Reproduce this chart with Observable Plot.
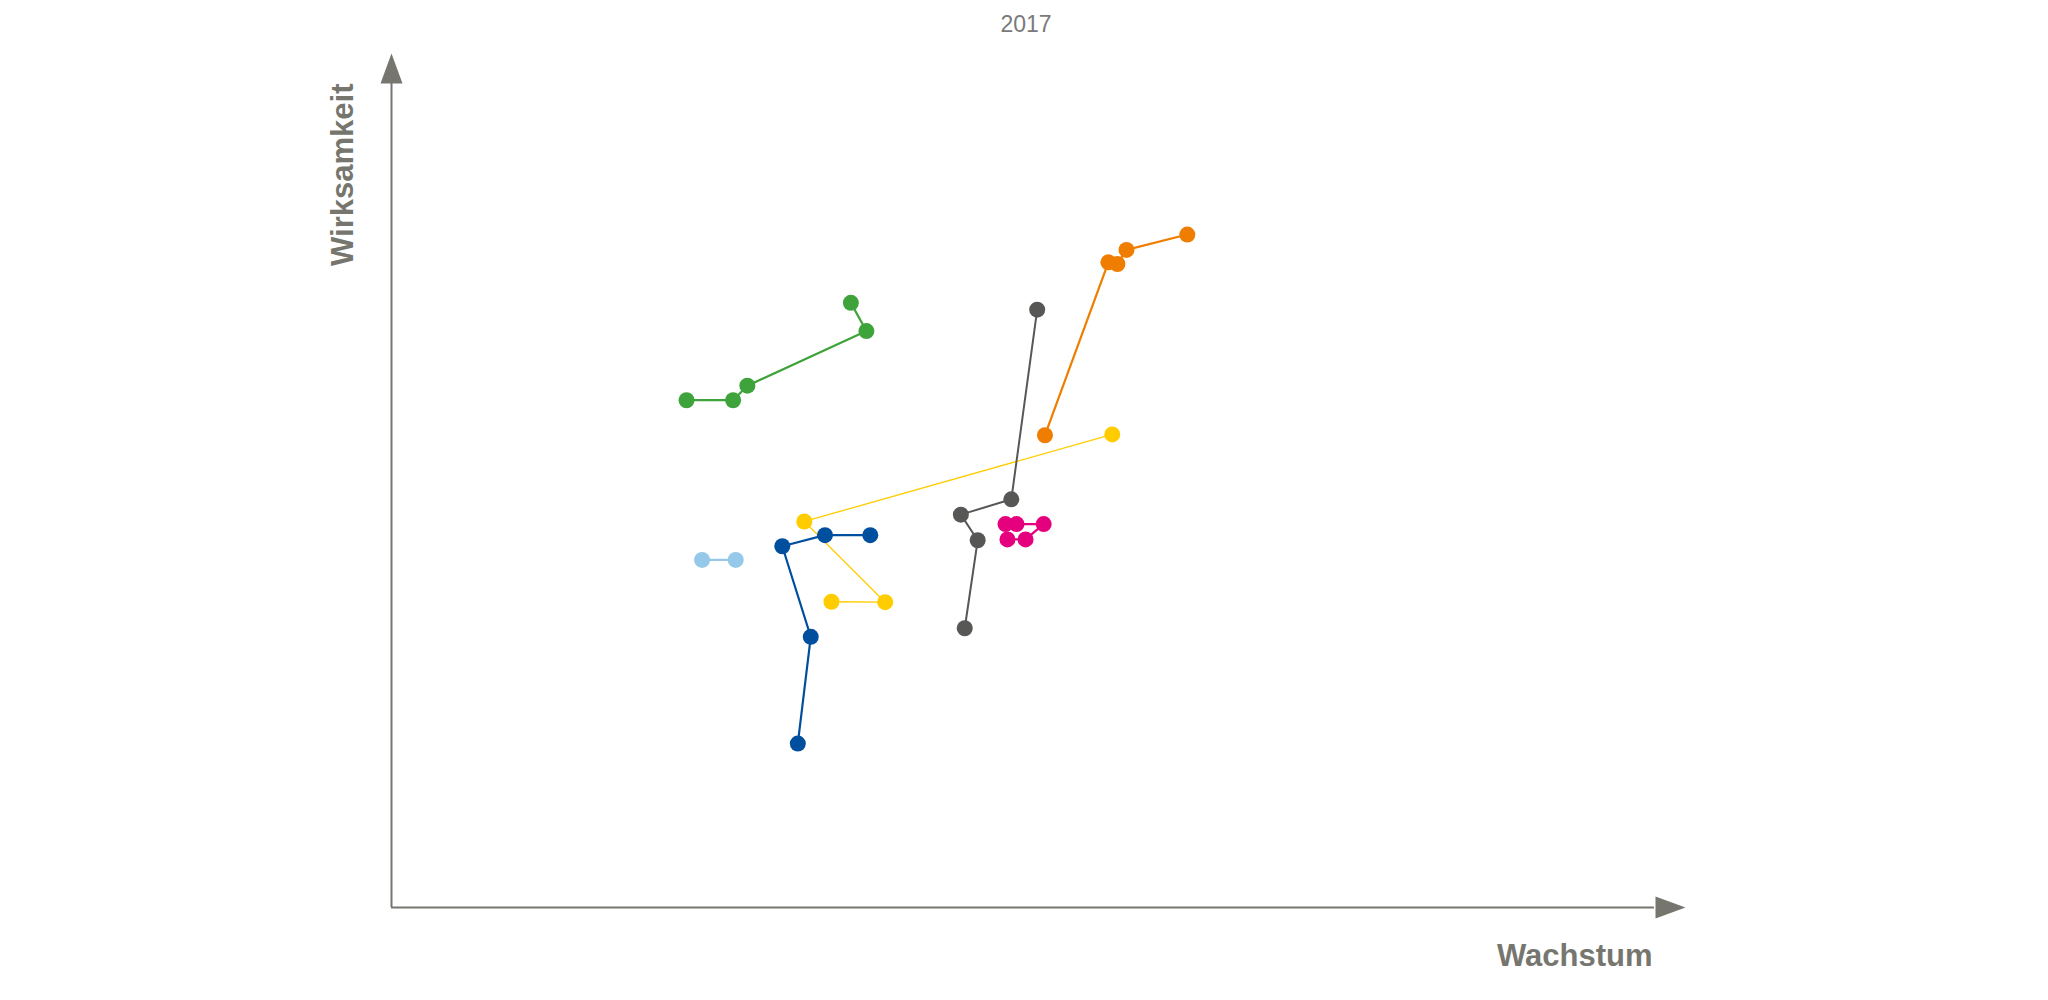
<!DOCTYPE html>
<html><head><meta charset="utf-8">
<script src="https://cdn.jsdelivr.net/npm/d3@7"></script>
<script src="https://cdn.jsdelivr.net/npm/@observablehq/plot@0.6"></script>
<style>
body{margin:0;background:#fff;font-family:"Liberation Sans",Arial,sans-serif;}
#title{width:2048px;box-sizing:border-box;padding-left:4px;height:45px;line-height:48px;text-align:center;font-size:23px;color:#7a7a7a;}
</style></head><body>
<div id="title">2017</div>
<div id="chart"></div>
<script>
// Series (Trajektorien)
const seriesNames  = ["grün", "hellblau", "blau", "gelb", "grau", "orange", "magenta"];
const seriesColors = ["#3ea33a", "#95c8e9", "#004f9e", "#ffcc00", "#575756", "#ef7d00", "#e5007d"];
const seriesWidths = [2.2, 2.2, 2.2, 1.3, 2, 2.2, 2.2];

// Values (Wachstum = x, Wirksamkeit = y), scale 0–100
const gruenX    = [22.8, 26.4, 27.5, 36.7, 35.5];
const gruenY    = [59.4, 59.4, 61.1, 67.5, 70.8];
const hellblauX = [24.0, 26.6];
const hellblauY = [40.7, 40.7];
const blauX     = [37.0, 33.5, 30.2, 32.4, 31.4];
const blauY     = [43.6, 43.6, 42.3, 31.7, 19.2];
const gelbX     = [55.7, 31.9, 38.15, 34.0];
const gelbY     = [55.4, 45.2, 35.75, 35.8];
const grauX     = [49.9, 47.9, 44.0, 45.3, 44.3];
const grauY     = [70.0, 47.8, 46.0, 43.0, 32.7];
const orangeX   = [61.5, 56.8, 56.1, 55.4, 50.5];
const orangeY   = [78.8, 77.0, 75.35, 75.55, 55.3];
const magentaX  = [47.45, 48.3, 50.4, 49.0, 47.6];
const magentaY  = [44.9, 44.9, 44.9, 43.1, 43.1];

const xDomain = [0, 100];
const yDomain = [0, 100];
const xArrowBase = 97.6;
const yArrowBase = 96.6;
const xLabel = "Wachstum";
const yLabel = "Wirksamkeit";
const axisColor = "#76766f";

const seriesX = [gruenX, hellblauX, blauX, gelbX, grauX, orangeX, magentaX];
const seriesY = [gruenY, hellblauY, blauY, gelbY, grauY, orangeY, magentaY];
const rows = seriesNames.flatMap((s, i) => seriesX[i].map((x, j) => ({series: s, x, y: seriesY[i][j]})));

const arrowHead = {
  draw(ctx) {
    ctx.moveTo(0, 0);
    ctx.lineTo(11, 30);
    ctx.lineTo(-11, 30);
    ctx.closePath();
  }
};

const chart = Plot.plot({
  width: 2048,
  height: 955,
  marginLeft: 391,
  marginRight: 363,
  marginTop: 8,
  marginBottom: 93,
  style: {fontFamily: "'Liberation Sans', Arial, sans-serif", background: "#fff", overflow: "visible"},
  x: {domain: xDomain, axis: null},
  y: {domain: yDomain, axis: null},
  color: {domain: seriesNames, range: seriesColors},
  marks: [
    Plot.ruleX([xDomain[0]], {y1: yDomain[0], y2: yArrowBase, stroke: axisColor, strokeWidth: 2}),
    Plot.ruleY([yDomain[0]], {x1: xDomain[0], x2: xArrowBase, stroke: axisColor, strokeWidth: 2}),
    Plot.dot([{x: xDomain[0], y: yDomain[1]}], {x: "x", y: "y", symbol: arrowHead, fill: axisColor, stroke: "none"}),
    Plot.dot([{x: xDomain[1], y: yDomain[0]}], {x: "x", y: "y", symbol: arrowHead, fill: axisColor, stroke: "none", rotate: 90}),
    Plot.text([yLabel], {text: d => d, frameAnchor: "top-left", dx: -39, dy: 30, rotate: -90,
      textAnchor: "end", lineAnchor: "bottom", fontSize: 31, fontWeight: "bold", fill: axisColor}),
    Plot.text([xLabel], {text: d => d, frameAnchor: "bottom-right", dx: -33, dy: 58,
      textAnchor: "end", lineAnchor: "bottom", fontSize: 31, fontWeight: "bold", fill: axisColor}),
    ...seriesNames.map((s, i) => Plot.line(rows.filter(r => r.series === s),
      {x: "x", y: "y", stroke: seriesColors[i], strokeWidth: seriesWidths[i]})),
    Plot.dot(rows, {x: "x", y: "y", fill: "series", r: 8, stroke: "none"})
  ]
});
document.getElementById("chart").appendChild(chart);
</script>
</body></html>
